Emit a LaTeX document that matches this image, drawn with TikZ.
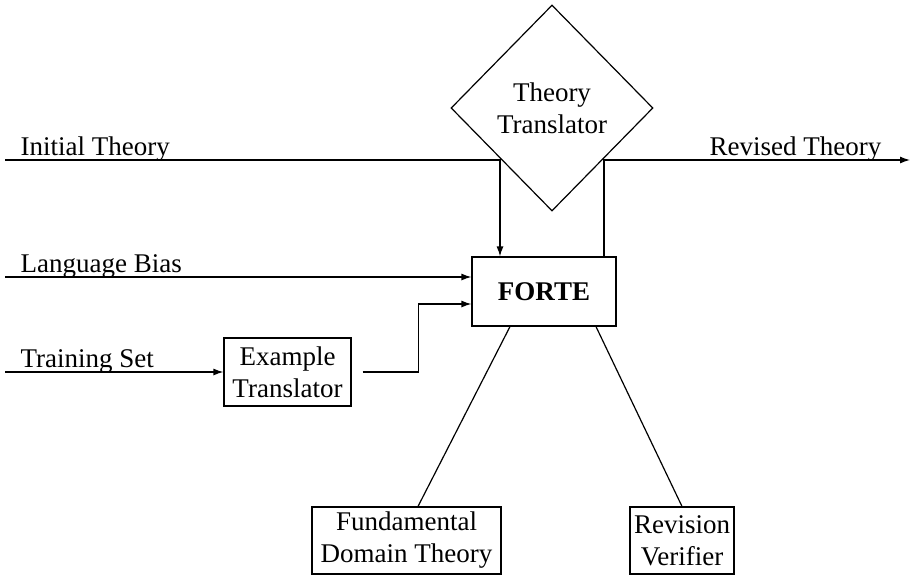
\documentclass[tikz,border=0pt]{standalone}
\usepackage{fontspec}
\setmainfont{Liberation Serif}
\usetikzlibrary{positioning,calc,arrows.meta,shapes.geometric}
\tikzset{font=\fontsize{13.5}{16}\selectfont}

\begin{document}
\begin{tikzpicture}[x=0.5pt, y=-0.5pt, line width=0.6pt, >={Latex[length=5pt,width=3.5pt]}]
	\useasboundingbox (0,0) rectangle (911,575);
	\begin{scope}
		\tikzstyle{every node}=[align=center, inner sep=1pt]
		\tikzstyle{box}=[draw, inner sep=2pt]
		\node[draw, diamond, minimum width=101pt, minimum height=103pt, inner sep=0pt] (tt) at (552, 108) {Theory\\Translator};
		\node[box, minimum width=72pt, minimum height=34.5pt] (forte) at (544, 291.5) {\textbf{FORTE}};
		\node[box, minimum width=63.5pt, minimum height=34pt] (ex) at (287.5, 372) {Example\\Translator};
		\node[box, minimum width=94.5pt, minimum height=33.5pt] (fdt) at (406.5, 540.5) {Fundamental\\Domain Theory};
		\node[box, minimum width=51pt, minimum height=33.5pt] (rv) at (682, 540.5) {Revision\\Verifier};

		\node[anchor=base west] (initlbl) at (18, 155) {Initial Theory};
		\node[anchor=base west] (langlbl) at (18, 272) {Language Bias};
		\node[anchor=base west] (trainlbl) at (18, 367) {Training Set};
		\node[anchor=base east] (revlbl) at (884, 155) {Revised Theory};

		\coordinate (init) at (5, 160);
		\coordinate (lang) at (5, 277);
		\coordinate (train) at (5, 372);
		\coordinate (out) at (910, 160);

		\draw[->] (init) -| ([xshift=-22pt]forte.north);
		\draw[->] ([xshift=30pt]forte.north) |- (out);
		\draw[->] (lang) -- (lang -| forte.west);
		\draw[->] (train) -- (ex.west);
		\draw[->] ([xshift=5.5pt]ex.east) -- ([xshift=33.5pt]ex.east) |- ([yshift=-6.25pt]forte.west);
		\draw ([xshift=-17pt]forte.south) -- ([xshift=5.75pt]fdt.north);
		\draw ([xshift=26pt]forte.south) -- (rv.north);

	\end{scope}
\end{tikzpicture}
\end{document}
